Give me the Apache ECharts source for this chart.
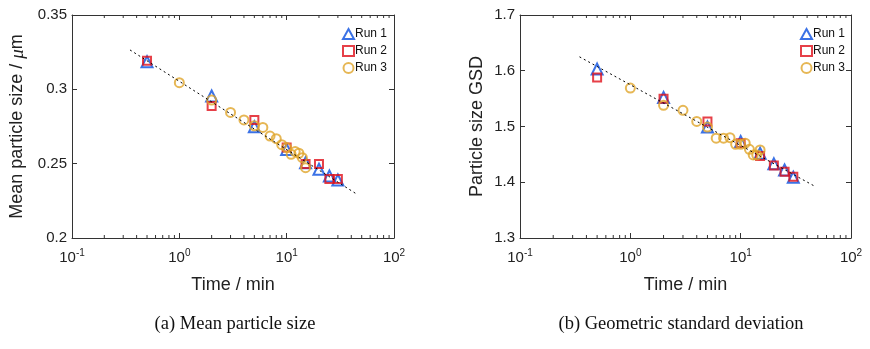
<!DOCTYPE html>
<html>
<head>
<meta charset="utf-8">
<script src="https://cdn.jsdelivr.net/npm/echarts@6/dist/echarts.min.js"></script>
<style>
html,body{margin:0;padding:0;background:#fff;}
#c{width:870px;height:349px;}
</style>
</head>
<body>
<div id="c"></div>
<script>
// ---- data ----
const timesRun12 = [0.5, 2, 5, 10, 15, 20, 25, 30];
const timesRun3 = [1, 2, 3, 4, 5, 6, 7, 8, 9, 10, 11, 12, 13, 14, 15];

const meanRun1 = [0.3186, 0.2955, 0.2749, 0.2596, 0.2507, 0.2462, 0.2417, 0.2390];
const meanRun2 = [0.3193, 0.2888, 0.2794, 0.2608, 0.2498, 0.2498, 0.2397, 0.2397];
const meanRun3 = [0.3045, 0.2928, 0.2845, 0.2794, 0.2755, 0.2744, 0.2686, 0.2668, 0.2628, 0.2608, 0.2563, 0.2581, 0.2570, 0.2540, 0.2473];
const meanFitT = [0.347, 43.9];
const meanFitY = [0.3265, 0.2300];

const gsdRun1 = [1.603, 1.552, 1.499, 1.473, 1.452, 1.433, 1.422, 1.409];
const gsdRun2 = [1.588, 1.550, 1.509, 1.470, 1.447, 1.430, 1.419, 1.410];
const gsdRun3 = [1.569, 1.538, 1.529, 1.509, 1.499, 1.479, 1.479, 1.480, 1.468, 1.468, 1.470, 1.459, 1.449, 1.449, 1.458];
const gsdFitT = [0.346, 45.8];
const gsdFitY = [1.625, 1.394];

const xLimits = [0.1, 100];
const meanLimits = [0.2, 0.35];
const meanInterval = 0.05;
const gsdLimits = [1.3, 1.7];
const gsdInterval = 0.1;
const minorTickTimes = [0.2,0.3,0.4,0.5,0.6,0.7,0.8,0.9,2,3,4,5,6,7,8,9,20,30,40,50,60,70,80,90];

const seriesNames = ['Run 1', 'Run 2', 'Run 3'];
const captions = ['(a) Mean particle size', '(b) Geometric standard deviation'];
const yNames = ['Mean particle size / {i|μ}m', 'Particle size GSD'];
const xName = 'Time / min';

// ---- styling ----
const FONT = 'Liberation Sans';
const AX = '#333';
const COLORS = ['#0a4fe0', '#e0101a', '#e0a52a'];
const SYMBOLS = ['triangle', 'rect', 'circle'];
const SIZES = [11, 8, 9];

const zip = (a, b) => a.map((v, i) => [v, b[i]]);

function xAxes(gi) {
  const base = {
    type: 'log', logBase: 10, min: xLimits[0], max: xLimits[1], gridIndex: gi,
    axisLine: {show: true, lineStyle: {color: AX, width: 1}},
    axisTick: {show: true, inside: true, length: 5, lineStyle: {color: AX}},
    minorTick: {show: false},
    splitLine: {show: false}
  };
  return [
    Object.assign({}, base, {
      position: 'bottom',
      name: xName, nameLocation: 'middle', nameGap: 38,
      nameTextStyle: {fontFamily: FONT, fontSize: 18, color: '#222'},
      axisLabel: {
        margin: 10,
        formatter: v => '{b|10}{s|' + Math.round(Math.log10(v)) + '}',
        rich: {
          b: {fontFamily: FONT, fontSize: 15, color: '#222'},
          s: {fontFamily: FONT, fontSize: 10, color: '#222', padding: [0, 0, 10, 0]}
        }
      }
    }),
    Object.assign({}, base, {position: 'top', axisLabel: {show: false}})
  ];
}

function yAxes(gi, lim, itv, name, gap) {
  const base = {
    type: 'value', min: lim[0], max: lim[1], interval: itv, gridIndex: gi,
    axisLine: {show: true, lineStyle: {color: AX, width: 1}},
    axisTick: {show: true, inside: true, length: 5, lineStyle: {color: AX}},
    splitLine: {show: false}
  };
  return [
    Object.assign({}, base, {
      position: 'left',
      name: name, nameLocation: 'middle', nameGap: gap,
      nameTextStyle: {fontFamily: FONT, fontSize: 18, color: '#222',
        rich: {i: {fontFamily: 'Liberation Serif', fontStyle: 'italic', fontSize: 19, color: '#222'}}},
      axisLabel: {margin: 5, fontFamily: FONT, fontSize: 15, color: '#222',
        formatter: v => String(parseFloat(v.toFixed(2)))}
    }),
    Object.assign({}, base, {position: 'right', axisLabel: {show: false}})
  ];
}

function scatter(gi, idx, t, y) {
  return {
    type: 'scatter', name: seriesNames[idx],
    xAxisIndex: gi * 2, yAxisIndex: gi * 2,
    symbol: SYMBOLS[idx], symbolSize: SIZES[idx],
    itemStyle: {color: 'rgba(255,255,255,0)', borderColor: COLORS[idx], borderWidth: 2},
    data: zip(t, y), z: 3 + idx, silent: true
  };
}

function fit(gi, t, y) {
  return {
    type: 'line', xAxisIndex: gi * 2, yAxisIndex: gi * 2,
    data: zip(t, y), symbol: 'none', z: 7, silent: true,
    lineStyle: {color: '#000', width: 1, type: [2, 3]}
  };
}

function minorTicks(gi, lim) {
  return {
    type: 'custom', xAxisIndex: gi * 2, yAxisIndex: gi * 2, silent: true, z: 2,
    data: minorTickTimes.map(t => [t]),
    renderItem: (params, api) => {
      const t = api.value(0);
      const b = api.coord([t, lim[0]]);
      const tp = api.coord([t, lim[1]]);
      return {
        type: 'group',
        children: [
          {type: 'line', shape: {x1: b[0], y1: b[1], x2: b[0], y2: b[1] - 3}, style: {stroke: AX, lineWidth: 1}},
          {type: 'line', shape: {x1: tp[0], y1: tp[1], x2: tp[0], y2: tp[1] + 3}, style: {stroke: AX, lineWidth: 1}}
        ]
      };
    }
  };
}

const legendBase = {
  orient: 'vertical', itemWidth: 11, itemHeight: 10, itemGap: 5,
  textStyle: {fontFamily: FONT, fontSize: 12, color: '#111', padding: [0, 0, 0, -4]},
  data: seriesNames, selectedMode: false
};

const option = {
  animation: false,
  backgroundColor: '#fff',
  grid: [
    {left: 72, top: 15, width: 322, height: 223},
    {left: 520, top: 15, width: 331, height: 223}
  ],
  xAxis: [...xAxes(0), ...xAxes(1)],
  yAxis: [
    ...yAxes(0, meanLimits, meanInterval, yNames[0], 45),
    ...yAxes(1, gsdLimits, gsdInterval, yNames[1], 34)
  ],
  legend: [
    Object.assign({}, legendBase, {left: 337, top: 23}),
    Object.assign({}, legendBase, {left: 795, top: 23})
  ],
  series: [
    minorTicks(0, meanLimits),
    scatter(0, 0, timesRun12, meanRun1),
    scatter(0, 1, timesRun12, meanRun2),
    scatter(0, 2, timesRun3, meanRun3),
    fit(0, meanFitT, meanFitY),
    minorTicks(1, gsdLimits),
    scatter(1, 0, timesRun12, gsdRun1),
    scatter(1, 1, timesRun12, gsdRun2),
    scatter(1, 2, timesRun3, gsdRun3),
    fit(1, gsdFitT, gsdFitY)
  ],
  graphic: [
    {type: 'text', x: 235, y: 315, style: {text: captions[0], textAlign: 'center', fontFamily: 'Liberation Serif', fontSize: 18.5, fill: '#111'}},
    {type: 'text', x: 681, y: 315, style: {text: captions[1], textAlign: 'center', fontFamily: 'Liberation Serif', fontSize: 18.5, fill: '#111'}}
  ]
};

const chart = echarts.init(document.getElementById('c'), null, {renderer: 'canvas'});
chart.setOption(option);
</script>
</body>
</html>
